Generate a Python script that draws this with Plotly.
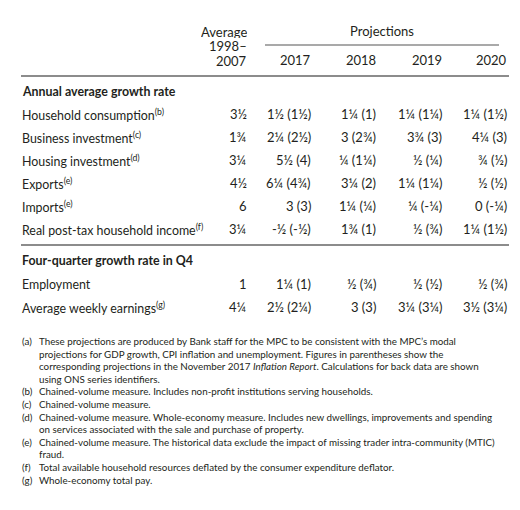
import plotly.graph_objects as go

# ---- data ----
col_headers = ["2017", "2018", "2019", "2020"]
avg_header = ["Average", "1998–", "2007"]
section1_title = "Annual average growth rate"
section1_labels = [
    "Household consumption<sup>(b)</sup>",
    "Business investment<sup>(c)</sup>",
    "Housing investment<sup>(d)</sup>",
    "Exports<sup>(e)</sup>",
    "Imports<sup>(e)</sup>",
    "Real post-tax household income<sup>(f)</sup>",
]
section1_avg = ["3½", "1¾", "3¼", "4½", "6", "3¼"]
section1_proj = [
    ["1½ (1½)", "1¼ (1)", "1¼ (1¼)", "1¼ (1½)"],
    ["2¼ (2½)", "3 (2¾)", "3¾ (3)", "4¼ (3)"],
    ["5½ (4)", "¼ (1¼)", "½ (¼)", "¾ (½)"],
    ["6¼ (4¾)", "3¼ (2)", "1¼ (1¼)", "½ (½)"],
    ["3 (3)", "1¼ (¼)", "¼ (-¼)", "0 (-¼)"],
    ["-½ (-½)", "1¾ (1)", "½ (¾)", "1¼ (1½)"],
]
section2_title = "Four-quarter growth rate in Q4"
section2_labels = ["Employment", "Average weekly earnings<sup>(g)</sup>"]
section2_avg = ["1", "4¼"]
section2_proj = [
    ["1¼ (1)", "½ (¾)", "½ (½)", "½ (¾)"],
    ["2½ (2¼)", "3 (3)", "3¼ (3¼)", "3½ (3¼)"],
]
footnotes = [
    ("(a)", "These projections are produced by Bank staff for the MPC to be consistent with the MPC’s modal"),
    ("", "projections for GDP growth, CPI inflation and unemployment. Figures in parentheses show the"),
    ("", "corresponding projections in the November 2017 <i>Inflation Report</i>. Calculations for back data are shown"),
    ("", "using ONS series identifiers."),
    ("(b)", "Chained-volume measure. Includes non-profit institutions serving households."),
    ("(c)", "Chained-volume measure."),
    ("(d)", "Chained-volume measure. Whole-economy measure. Includes new dwellings, improvements and spending"),
    ("", "on services associated with the sale and purchase of property."),
    ("(e)", "Chained-volume measure. The historical data exclude the impact of missing trader intra-community (MTIC)"),
    ("", "fraud."),
    ("(f)", "Total available household resources deflated by the consumer expenditure deflator."),
    ("(g)", "Whole-economy total pay."),
]

# ---- layout constants ----
FONT = "Lato, Noto Sans, sans-serif"
TXT = "#231f20"
RULE = "#8c8c8c"
LEFT = 13
AVG_X = 240
PROJ_X = [304, 369, 435, 500]
LABEL = 12.4
NUM = 13
FOOT = 9.8

ann = []
def t(x, y, s, size=LABEL, anchor="left", bold=False, color=TXT, h=None):
    if bold:
        s = "<b>" + s + "</b>"
    d = dict(x=x, y=y, xref="x", yref="y", text=s, showarrow=False,
             xanchor=anchor, yanchor="middle", borderpad=0,
             font=dict(family=FONT, size=size, color=color))
    if h is not None:
        d["height"] = h
    ann.append(d)

# header
for i, hd in enumerate(avg_header):
    t(AVG_X, 23 + i * 14.5, hd, size=NUM, anchor="right", h=13)
t((257 + 491) / 2, 23, "Projections", size=NUM, anchor="center")
for x, hd in zip(PROJ_X, col_headers):
    t(x, 52, hd, size=NUM, anchor="right")

# section 1
t(LEFT, 83, section1_title, bold=True)
y0 = 106
dy = 23
for i, lab in enumerate(section1_labels):
    y = y0 + i * dy
    t(LEFT, y, lab)
    t(AVG_X, y, section1_avg[i], size=NUM, anchor="right")
    for x, v in zip(PROJ_X, section1_proj[i]):
        t(x, y, v, size=NUM, anchor="right")

# section 2
t(LEFT, 252, section2_title, bold=True)
for i, lab in enumerate(section2_labels):
    y = 276 + i * dy
    t(LEFT, y, lab)
    t(AVG_X, y, section2_avg[i], size=NUM, anchor="right")
    for x, v in zip(PROJ_X, section2_proj[i]):
        t(x, y, v, size=NUM, anchor="right")

# footnotes
fy = 333
for i, (tag, txt) in enumerate(footnotes):
    y = fy + i * 12.6
    if tag:
        t(LEFT, y, tag, size=FOOT)
    t(30, y, txt, size=FOOT)

shapes = [
    dict(type="line", xref="x", yref="y", x0=257, x1=491, y0=37, y1=37,
         line=dict(color=RULE, width=1.6)),
    dict(type="line", xref="x", yref="y", x0=13, x1=501, y0=68, y1=68,
         line=dict(color=RULE, width=2)),
    dict(type="line", xref="x", yref="y", x0=13, x1=501, y0=237, y1=237,
         line=dict(color=RULE, width=2)),
]

fig = go.Figure()
fig.update_layout(
    width=520, height=510,
    margin=dict(l=0, r=0, t=0, b=0),
    paper_bgcolor="white", plot_bgcolor="white",
    xaxis=dict(range=[0, 520], visible=False, fixedrange=True),
    yaxis=dict(range=[510, 0], visible=False, fixedrange=True),
    annotations=ann, shapes=shapes, showlegend=False,
)
fig.write_html("out.html")
